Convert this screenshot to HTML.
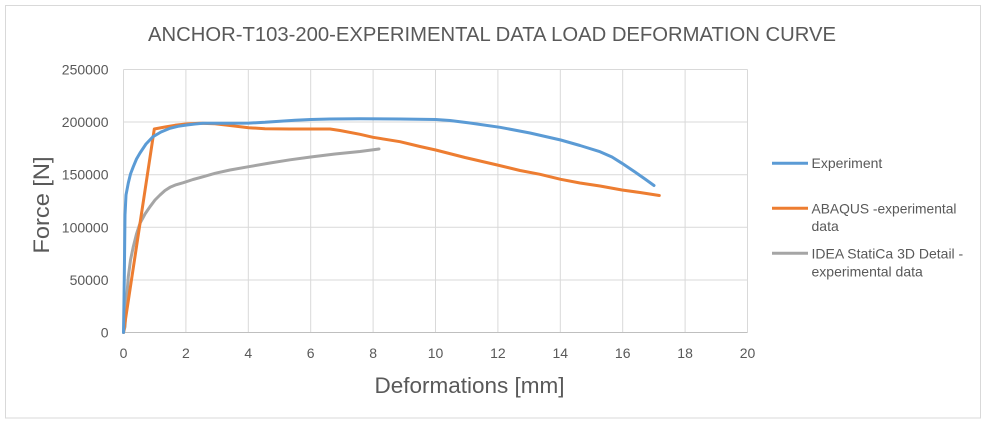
<!DOCTYPE html>
<html>
<head>
<meta charset="utf-8">
<style>
html,body{margin:0;padding:0;background:#fff;}
svg{display:block;}
text{font-family:"Liberation Sans",Arial,sans-serif;fill:#595959;}
</style>
</head>
<body>
<svg width="987" height="422" viewBox="0 0 987 422" xmlns="http://www.w3.org/2000/svg">
<rect x="0" y="0" width="987" height="422" fill="#fff"/>
<rect x="5.5" y="5.5" width="975" height="412.5" fill="#fff" stroke="#d9d9d9" stroke-width="1"/>

<text x="148" y="41" font-size="20" textLength="688" lengthAdjust="spacingAndGlyphs">ANCHOR-T103-200-EXPERIMENTAL DATA LOAD DEFORMATION CURVE</text>

<!-- gridlines -->
<g stroke="#d9d9d9" stroke-width="1">
<line x1="123.5" y1="69.5" x2="747.5" y2="69.5"/>
<line x1="123.5" y1="122" x2="747.5" y2="122"/>
<line x1="123.5" y1="174.7" x2="747.5" y2="174.7"/>
<line x1="123.5" y1="227.3" x2="747.5" y2="227.3"/>
<line x1="123.5" y1="280" x2="747.5" y2="280"/>
<line x1="123.5" y1="69.5" x2="123.5" y2="332.5"/>
<line x1="185.9" y1="69.5" x2="185.9" y2="332.5"/>
<line x1="248.3" y1="69.5" x2="248.3" y2="332.5"/>
<line x1="310.7" y1="69.5" x2="310.7" y2="332.5"/>
<line x1="373.1" y1="69.5" x2="373.1" y2="332.5"/>
<line x1="435.5" y1="69.5" x2="435.5" y2="332.5"/>
<line x1="497.9" y1="69.5" x2="497.9" y2="332.5"/>
<line x1="560.3" y1="69.5" x2="560.3" y2="332.5"/>
<line x1="622.7" y1="69.5" x2="622.7" y2="332.5"/>
<line x1="685.1" y1="69.5" x2="685.1" y2="332.5"/>
<line x1="747.5" y1="69.5" x2="747.5" y2="332.5"/>
</g>
<line x1="123.5" y1="332.5" x2="747.5" y2="332.5" stroke="#bfbfbf" stroke-width="1"/>

<!-- y tick labels -->
<g font-size="14" text-anchor="end">
<text x="108.5" y="74.5">250000</text>
<text x="108.5" y="127">200000</text>
<text x="108.5" y="179.7">150000</text>
<text x="108.5" y="232.3">100000</text>
<text x="108.5" y="285">50000</text>
<text x="108.5" y="337.5">0</text>
</g>
<!-- x tick labels -->
<g font-size="14" text-anchor="middle">
<text x="123.5" y="358">0</text>
<text x="185.9" y="358">2</text>
<text x="248.3" y="358">4</text>
<text x="310.7" y="358">6</text>
<text x="373.1" y="358">8</text>
<text x="435.5" y="358">10</text>
<text x="497.9" y="358">12</text>
<text x="560.3" y="358">14</text>
<text x="622.7" y="358">16</text>
<text x="685.1" y="358">18</text>
<text x="747.5" y="358">20</text>
</g>

<text x="374.5" y="393" font-size="22" textLength="190" lengthAdjust="spacingAndGlyphs">Deformations [mm]</text>
<text transform="translate(49,205) rotate(-90)" font-size="22" text-anchor="middle" textLength="97" lengthAdjust="spacingAndGlyphs">Force [N]</text>

<!-- series -->
<g fill="none" stroke-width="3" stroke-linejoin="round" stroke-linecap="round">
<polyline stroke="#a5a5a5" points="123.5,332.5 125,326.7 126.5,300 128.3,276.7 130.5,260 133.3,246.7 136.5,234 140,223.3 145,214 150,206.7 155,200 160,195 165,190.5 170,187.3 176,184.8 183.3,182.7 193,179.5 203.3,176.7 215,173.3 230,170 248.7,166.7 270,163 290,159.8 310.7,157 335,154 360,151.5 379,149"/>
<polyline stroke="#ed7d31" points="123.5,332.5 154.3,129 165,127 175,125.3 186,124 200,123.3 215,123.8 230,125.5 248.7,127.7 265,128.8 290,129 310,129 330,129 340,130.5 360,134.3 373,137.3 400,141.7 420,146.5 435.7,150 465,157.5 497.3,165 520,170.5 540,174.3 560.7,179.3 580,183 600,186 622,190 640,192.5 659.3,195.5"/>
<polyline stroke="#5b9bd5" points="123.5,332.5 124,300 124.5,260 125,215 126,195 128.3,183 130.5,174 133.3,166.7 136.5,159 140,153 146,144 153,136.7 161,132 170,128.3 178,126.3 186.7,125 195,124 203,123.3 215,123.2 230,123.3 248.7,123.1 265,122.3 280,121.2 295,120.2 310.7,119.5 330,119 360,118.8 400,119 435.7,119.5 450,120.5 470,123 500,127.3 530,133 560.7,140 580,145.5 600,151.7 612,157 622,163.3 635,172 645,179 654,185.5"/>
</g>

<!-- legend -->
<g stroke-width="3" stroke-linecap="butt">
<line x1="772" y1="163.3" x2="808" y2="163.3" stroke="#5b9bd5"/>
<line x1="772" y1="208.3" x2="808" y2="208.3" stroke="#ed7d31"/>
<line x1="772" y1="253.3" x2="808" y2="253.3" stroke="#a5a5a5"/>
</g>
<g font-size="14">
<text x="811.5" y="168">Experiment</text>
<text x="811.5" y="213.5" textLength="145" lengthAdjust="spacingAndGlyphs">ABAQUS -experimental</text>
<text x="811.5" y="231">data</text>
<text x="811.5" y="258.5">IDEA StatiCa 3D Detail -</text>
<text x="811.5" y="276.5">experimental data</text>
</g>
</svg>
</body>
</html>
